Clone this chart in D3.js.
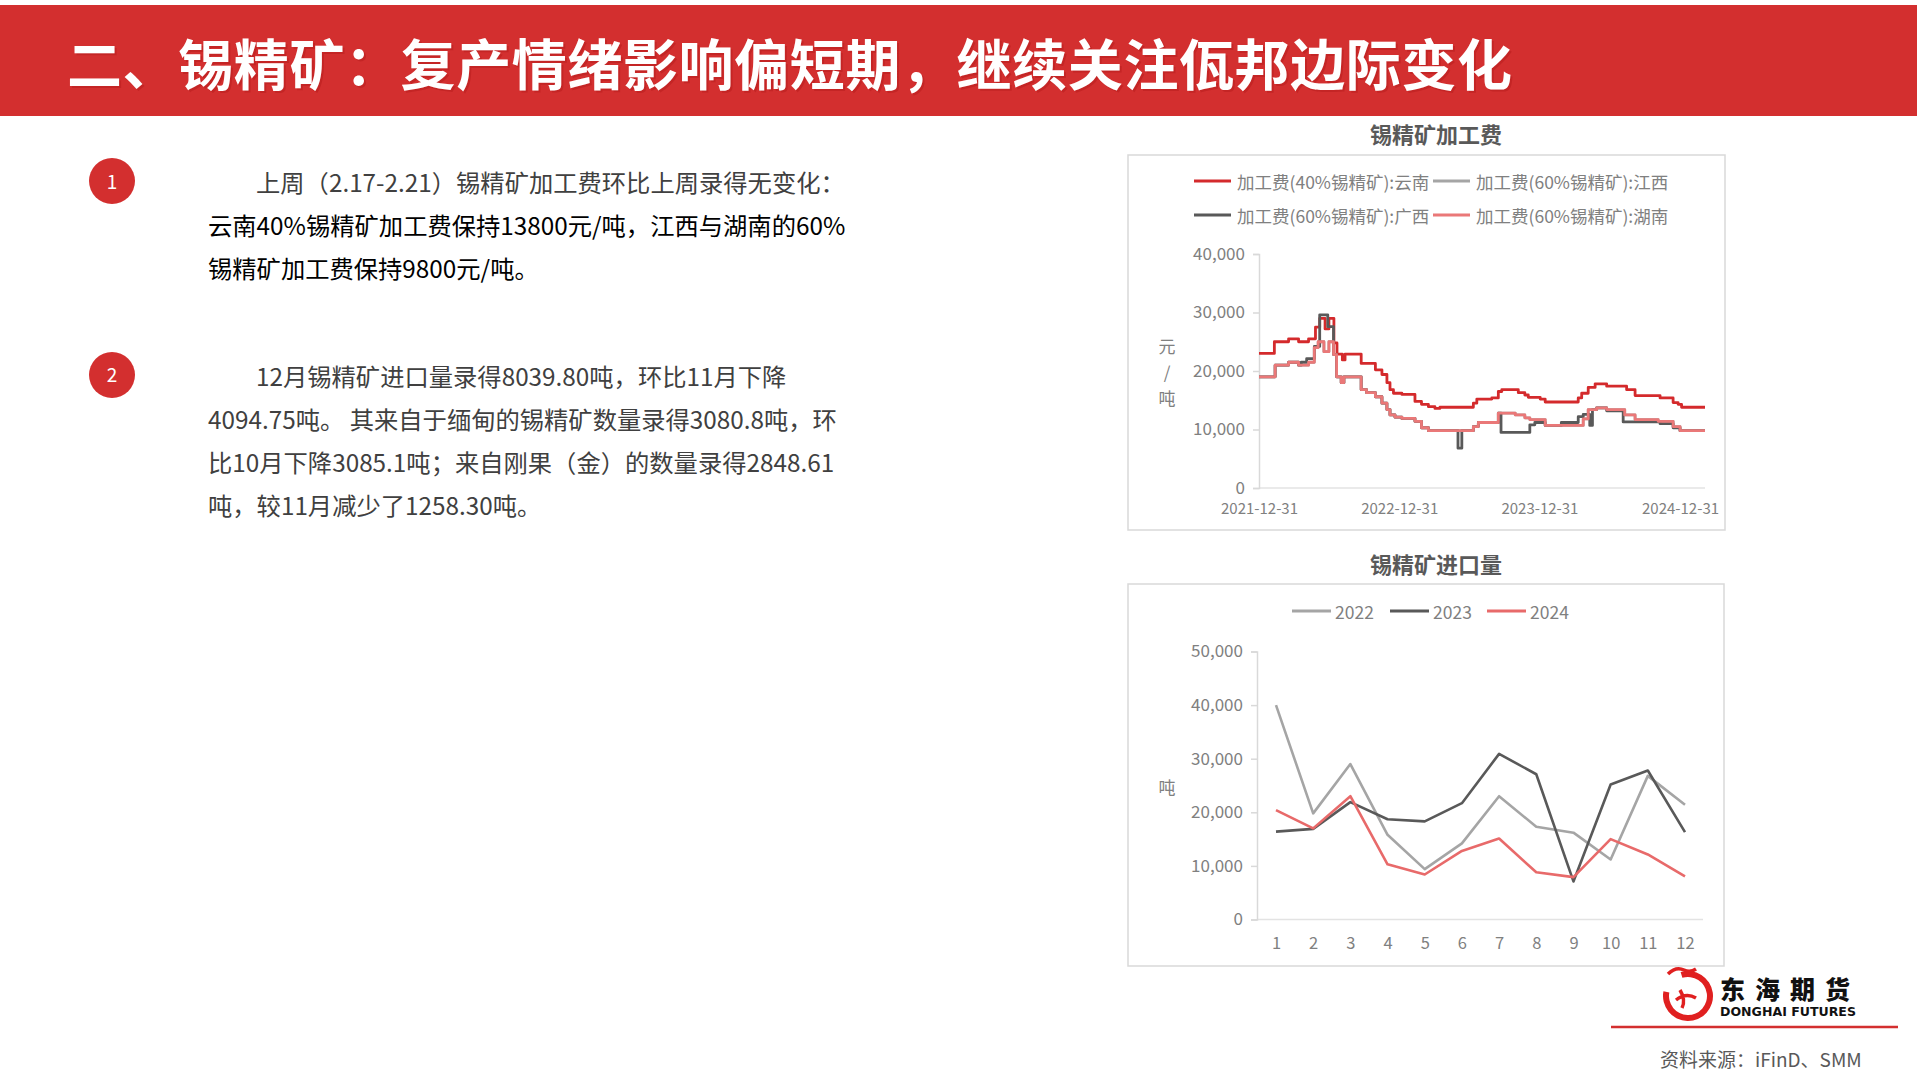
<!DOCTYPE html>
<html><head><meta charset="utf-8">
<script src="https://cdn.jsdelivr.net/npm/d3@7"></script>
<style>
body{margin:0;background:#fff;}
svg{display:block;}
text{font-family:"Noto Sans CJK SC","Noto Sans",sans-serif;}
</style>
</head><body>
<svg id="c" width="1920" height="1080"></svg>
<script>
// ---------- text content ----------
const pageTitle = "二、锡精矿：复产情绪影响偏短期，继续关注佤邦边际变化";
const para1Lines = ["上周（2.17-2.21）锡精矿加工费环比上周录得无变化：",
  "云南40%锡精矿加工费保持13800元/吨，江西与湖南的60%",
  "锡精矿加工费保持9800元/吨。"];
const para2Lines = ["12月锡精矿进口量录得8039.80吨，环比11月下降",
  "4094.75吨。 其来自于缅甸的锡精矿数量录得3080.8吨，环",
  "比10月下降3085.1吨；来自刚果（金）的数量录得2848.61",
  "吨，较11月减少了1258.30吨。"];
const sourceText = "资料来源：iFinD、SMM";

// ---------- chart 1: 锡精矿加工费 ----------
const feeTitle = "锡精矿加工费";
const feeSeriesNames = ["加工费(40%锡精矿):云南","加工费(60%锡精矿):江西","加工费(60%锡精矿):广西","加工费(60%锡精矿):湖南"];
const feeTickDates = ["2021-12-31","2022-12-31","2023-12-31","2024-12-31"];
const feeYTicks = [0,10000,20000,30000,40000];
const feeYunnan = [["2021-12-31",23000],["2022-02-09",25000],["2022-03-18",25500],["2022-04-13",25000],["2022-05-09",25500],
 ["2022-05-27",27500],["2022-06-07",29000],["2022-06-21",27200],["2022-07-01",29000],["2022-07-14",24800],["2022-07-22",22900],
 ["2022-08-05",21900],["2022-08-12",22900],["2022-09-23",21300],["2022-10-30",20200],["2022-11-16",19400],["2022-11-29",18000],
 ["2022-12-07",16800],["2022-12-16",16200],["2023-01-07",16000],["2023-02-10",14800],["2023-02-27",14300],["2023-03-17",13900],
 ["2023-04-03",13600],["2023-04-16",13800],["2023-07-12",14500],["2023-07-21",15200],["2023-08-29",15400],["2023-09-15",16500],
 ["2023-09-24",16800],["2023-11-06",16300],["2023-11-23",15900],["2023-12-02",15500],["2024-01-02",15200],["2024-01-15",14700],
 ["2024-04-10",15400],["2024-04-19",16200],["2024-05-06",17200],["2024-05-24",17800],["2024-06-23",17400],["2024-08-14",16800],
 ["2024-09-05",15800],["2024-11-09",15400],["2024-12-13",14600],["2024-12-26",14300],["2025-01-04",13800],["2025-03-06",13800]];
const feeJiangxi = [["2021-12-31",19000],["2022-02-11",21000],["2022-03-18",21500],["2022-04-13",21000],["2022-05-09",21500],
 ["2022-05-24",24000],["2022-06-03",25000],["2022-06-18",23300],["2022-07-01",25000],["2022-07-13",22800],["2022-07-21",19000],
 ["2022-08-02",18000],["2022-08-09",19000],["2022-09-23",16800],["2022-10-07",16300],["2022-10-30",15600],["2022-11-16",14500],
 ["2022-11-29",13400],["2022-12-07",12500],["2022-12-20",12100],["2023-01-07",11900],["2023-02-10",11400],["2023-02-27",10300],
 ["2023-03-17",9800],["2023-07-12",10500],["2023-07-25",11200],["2023-09-15",12800],["2023-10-29",12500],["2023-11-23",12000],
 ["2023-12-06",11700],["2024-01-15",10700],["2024-04-23",11800],["2024-05-06",13400],["2024-05-28",13700],["2024-06-23",13400],
 ["2024-08-09",12500],["2024-09-05",11700],["2024-11-04",11400],["2024-12-13",10500],["2024-12-31",9800],["2025-03-06",9800]];
const feeGuangxi = [["2021-12-31",19000],["2022-02-11",21000],["2022-03-18",21500],["2022-04-13",21000],["2022-04-20",21500],
 ["2022-05-04",22100],["2022-05-24",24200],["2022-06-07",29600],["2022-06-28",27600],["2022-07-13",22800],["2022-07-21",19000],
 ["2022-08-02",18000],["2022-08-09",19000],["2022-09-23",16800],["2022-10-07",16300],["2022-10-30",15600],["2022-11-16",14500],
 ["2022-11-29",13400],["2022-12-07",12500],["2022-12-20",12100],["2023-01-07",11900],["2023-02-10",11400],["2023-02-27",10300],
 ["2023-03-17",9800],["2023-06-02",6800],["2023-06-12",9800],["2023-07-12",10500],["2023-07-25",11200],["2023-09-15",12800],
 ["2023-09-22",9500],["2023-12-06",10800],["2023-12-19",11200],["2024-01-15",10700],["2024-02-26",11200],["2024-04-10",12200],
 ["2024-04-23",12600],["2024-05-10",10700],["2024-05-17",13400],["2024-05-28",13700],["2024-06-23",13200],["2024-08-05",11300],
 ["2024-11-09",11000],["2024-12-13",10300],["2024-12-31",9800],["2025-03-06",9800]];
const feeHunan = [["2021-12-31",19000],["2022-02-11",21000],["2022-03-18",21500],["2022-04-13",21000],["2022-05-09",21500],
 ["2022-05-24",24000],["2022-06-03",25000],["2022-06-18",23300],["2022-07-01",25000],["2022-07-13",22800],["2022-07-21",19000],
 ["2022-08-02",18000],["2022-08-09",19000],["2022-09-23",16800],["2022-10-07",16300],["2022-10-30",15600],["2022-11-16",14500],
 ["2022-11-29",13400],["2022-12-07",12500],["2022-12-20",12100],["2023-01-07",11900],["2023-02-10",11400],["2023-02-27",10300],
 ["2023-03-17",9800],["2023-07-12",10500],["2023-07-25",11200],["2023-09-15",12800],["2023-10-29",12500],["2023-11-23",12000],
 ["2023-12-06",11700],["2024-01-15",10700],["2024-04-23",11800],["2024-05-06",13400],["2024-05-28",13700],["2024-06-23",13400],
 ["2024-08-09",12500],["2024-09-05",11700],["2024-11-04",11400],["2024-12-13",10500],["2024-12-31",9800],["2025-03-06",9800]];
const feeColors = ["#d42a2c","#a5a5a5","#595959","#ea7878"];

// ---------- chart 2: 锡精矿进口量 ----------
const impTitle = "锡精矿进口量";
const months = [1,2,3,4,5,6,7,8,9,10,11,12];
const impYears = ["2022","2023","2024"];
const imp2022 = [40000,19800,29000,15800,9400,14200,23000,17300,16200,11200,26800,21400];
const imp2023 = [16400,16900,21900,18700,18300,21700,30900,27100,7100,25200,27800,16300];
const imp2024 = [20400,17000,23000,10300,8400,12800,15100,8800,7900,15000,12134.55,8039.8];
const impYTicks = [0,10000,20000,30000,40000,50000];
const impColors = ["#a5a5a5","#595959","#e86a6a"];

// ---------- drawing ----------
const svg = d3.select("#c");
const red = "#d32f2f";
const fmt = d3.format(",");
const parse = d3.timeParse("%Y-%m-%d");

// header band
svg.append("rect").attr("x",0).attr("y",5).attr("width",1917).attr("height",111).attr("fill",red);
svg.append("text").attr("x",69).attr("y",63).attr("dominant-baseline","central").attr("letter-spacing",0.6)
  .attr("font-size",55).attr("font-weight",700).attr("fill","#b71c1c").attr("opacity",0.5).text(pageTitle);
svg.append("text").attr("x",67).attr("y",61).attr("dominant-baseline","central").attr("letter-spacing",0.6)
  .attr("font-size",55).attr("font-weight",700).attr("fill","#fff").text(pageTitle);

// paragraphs
function para(lines, cy, colors){
  const g = svg.append("g");
  g.append("circle").attr("cx",112).attr("cy",cy).attr("r",23).attr("fill",red);
  lines.forEach((t,i)=>{
    g.append("text").attr("x", i===0?256:208).attr("y", cy + i*43.3)
      .attr("dominant-baseline","central").attr("font-size",24.3)
      .attr("fill", colors[i]).text(t);
  });
}
para(para1Lines, 181, ["#404040","#000","#000"]);
para(para2Lines, 375, ["#404040","#404040","#404040","#404040"]);
svg.append("text").attr("x",112).attr("y",180).attr("text-anchor","middle").attr("dominant-baseline","central")
  .attr("font-size",19).attr("fill","#fff").text("1");
svg.append("text").attr("x",112).attr("y",373).attr("text-anchor","middle").attr("dominant-baseline","central")
  .attr("font-size",19).attr("fill","#fff").text("2");

// ---- chart 1 ----
svg.append("text").attr("x",1436).attr("y",133).attr("text-anchor","middle").attr("dominant-baseline","central")
  .attr("font-size",22).attr("font-weight",700).attr("fill","#595959").text(feeTitle);
svg.append("rect").attr("x",1128).attr("y",155).attr("width",597).attr("height",375)
  .attr("fill","#fff").attr("stroke","#d9d9d9").attr("stroke-width",1.5);

const x1 = d3.scaleTime().domain([parse("2021-12-31"), parse("2025-03-06")]).range([1259, 1705]);
const y1 = d3.scaleLinear().domain([0,40000]).range([488,254]);

svg.append("line").attr("x1",1259).attr("x2",1705).attr("y1",y1(0)).attr("y2",y1(0)).attr("stroke","#e3e3e3").attr("stroke-width",1.5);
const ya1 = svg.append("g").attr("transform","translate(1259,0)")
  .call(d3.axisLeft(y1).tickValues(feeYTicks).tickFormat(fmt).tickSize(6).tickPadding(8));
ya1.select(".domain").attr("stroke","#d9d9d9").attr("stroke-width",1.5);
ya1.selectAll(".tick line").attr("stroke","#d9d9d9").attr("stroke-width",1.5);
ya1.selectAll(".tick text").attr("font-size",17).attr("fill","#808080").attr("font-family","'Noto Sans CJK SC',sans-serif");
const xa1 = svg.append("g").attr("transform",`translate(0,${y1(0)})`)
  .call(d3.axisBottom(x1).tickValues(feeTickDates.map(parse)).tickFormat(d3.timeFormat("%Y-%m-%d")).tickSize(0).tickPadding(15));
xa1.select(".domain").remove();
xa1.selectAll(".tick text").attr("font-size",15).attr("fill","#808080").attr("font-family","'Noto Sans CJK SC',sans-serif");
["元","/","吨"].forEach((c,i)=>{
  svg.append("text").attr("x",1167).attr("y",345+i*26).attr("text-anchor","middle").attr("dominant-baseline","central")
    .attr("font-size",17).attr("fill","#808080").text(c);
});

const feeData = [feeYunnan, feeJiangxi, feeGuangxi, feeHunan];
const line1 = d3.line().x(d=>x1(parse(d[0]))).y(d=>y1(d[1])).curve(d3.curveStepAfter);
feeData.forEach((s,i)=>{
  svg.append("path").datum(s).attr("d",line1).attr("fill","none")
    .attr("stroke",feeColors[i]).attr("stroke-width",2.8).attr("stroke-linejoin","round");
});
feeSeriesNames.forEach((n,i)=>{
  const lx = i%2===0 ? 1194 : 1433;
  const ly = i<2 ? 181 : 215;
  svg.append("line").attr("x1",lx).attr("x2",lx+37).attr("y1",ly).attr("y2",ly)
    .attr("stroke",feeColors[i]).attr("stroke-width",3);
  svg.append("text").attr("x",lx+43).attr("y",ly).attr("dominant-baseline","central")
    .attr("font-size",17.5).attr("fill","#808080").text(n);
});

// ---- chart 2 ----
svg.append("text").attr("x",1436).attr("y",563).attr("text-anchor","middle").attr("dominant-baseline","central")
  .attr("font-size",22).attr("font-weight",700).attr("fill","#595959").text(impTitle);
svg.append("rect").attr("x",1128).attr("y",584).attr("width",596).attr("height",382)
  .attr("fill","#fff").attr("stroke","#d9d9d9").attr("stroke-width",1.5);

const x2 = d3.scalePoint().domain(months).range([1276, 1685]);
const y2 = d3.scaleLinear().domain([0,50000]).range([919.5,651.5]);
svg.append("line").attr("x1",1257).attr("x2",1703).attr("y1",y2(0)).attr("y2",y2(0)).attr("stroke","#e3e3e3").attr("stroke-width",1.5);
const ya2 = svg.append("g").attr("transform","translate(1257,0)")
  .call(d3.axisLeft(y2).tickValues(impYTicks).tickFormat(fmt).tickSize(6).tickPadding(8));
ya2.select(".domain").attr("stroke","#d9d9d9").attr("stroke-width",1.5);
ya2.selectAll(".tick line").attr("stroke","#d9d9d9").attr("stroke-width",1.5);
ya2.selectAll(".tick text").attr("font-size",17).attr("fill","#808080").attr("font-family","'Noto Sans CJK SC',sans-serif");
const xa2 = svg.append("g").attr("transform",`translate(0,${y2(0)})`)
  .call(d3.axisBottom(x2).tickSize(0).tickPadding(18));
xa2.select(".domain").remove();
xa2.selectAll(".tick text").attr("font-size",16.5).attr("fill","#808080").attr("font-family","'Noto Sans CJK SC',sans-serif");
svg.append("text").attr("x",1167).attr("y",786).attr("text-anchor","middle").attr("dominant-baseline","central")
  .attr("font-size",17).attr("fill","#808080").text("吨");

const impData = [imp2022, imp2023, imp2024];
const line2 = d3.line().x((d,i)=>x2(months[i])).y(d=>y2(d));
impData.forEach((s,i)=>{
  svg.append("path").datum(s).attr("d",line2).attr("fill","none")
    .attr("stroke",impColors[i]).attr("stroke-width",2.6).attr("stroke-linejoin","round");
});
const legX2 = [1292,1390,1487];
impYears.forEach((n,i)=>{
  svg.append("line").attr("x1",legX2[i]).attr("x2",legX2[i]+39).attr("y1",611).attr("y2",611)
    .attr("stroke",impColors[i]).attr("stroke-width",3);
  svg.append("text").attr("x",legX2[i]+43).attr("y",611).attr("dominant-baseline","central")
    .attr("font-size",17.5).attr("fill","#808080").text(n);
});

// ---- footer / logo ----
const logo = svg.append("g");
logo.append("path").attr("d", d3.arc()({innerRadius:19,outerRadius:25,startAngle:-0.3,endAngle:4.9}))
  .attr("transform","translate(1688,996)").attr("fill","#e02020");
logo.append("path").attr("d","M1668,974 q8,-8 16,-4 q6,3 12,-1 M1676,1000 q10,-8 20,-2 M1680,990 q6,10 2,18")
  .attr("fill","none").attr("stroke","#e02020").attr("stroke-width",3.5);
logo.append("text").attr("x",1720).attr("y",988).attr("dominant-baseline","central")
  .attr("font-size",25).attr("font-weight",900).attr("letter-spacing",10).attr("fill","#111").text("东海期货");
logo.append("text").attr("x",1720).attr("y",1012).attr("dominant-baseline","central")
  .attr("font-size",12).attr("font-weight",900).attr("fill","#111")
  .attr("textLength",136).attr("lengthAdjust","spacingAndGlyphs")
  .style("font-family","'DejaVu Sans',sans-serif").text("DONGHAI FUTURES");
svg.append("line").attr("x1",1611).attr("x2",1898).attr("y1",1027).attr("y2",1027).attr("stroke",red).attr("stroke-width",2.5);
svg.append("text").attr("x",1660).attr("y",1058).attr("dominant-baseline","central")
  .attr("font-size",19).attr("fill","#595959").text(sourceText);
</script>
</body></html>
